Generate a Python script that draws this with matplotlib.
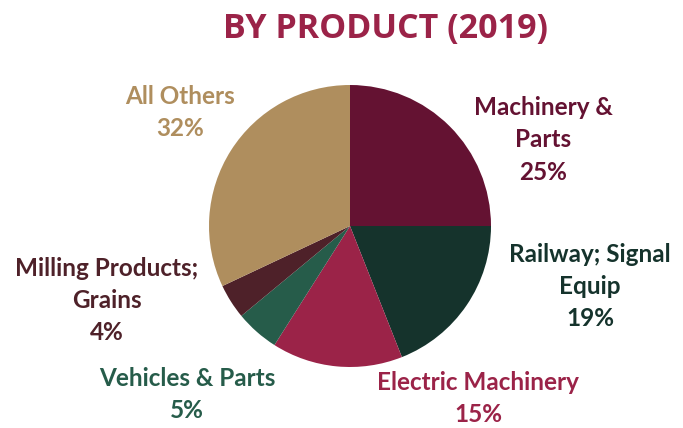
import matplotlib.pyplot as plt

categories = ['Machinery &\nParts', 'Railway; Signal\nEquip', 'Electric Machinery',
              'Vehicles & Parts', 'Milling Products;\nGrains', 'All Others']
shares = [25, 19, 15, 5, 4, 32]
colors = ['#641232', '#15332c', '#9b2348', '#265c4a', '#4e2129', '#af8e5e']
# label centres in pixels (x, y of first line from top)
label_pos = [(543, 108), (590, 254), (478, 383), (187, 378), (107, 268), (180, 96)]

W, H = 683, 428
fig = plt.figure(figsize=(W / 100, H / 100), dpi=100)

cx, cy, r = 350, 226, 141
ax = fig.add_axes([(cx - r) / W, (H - cy - r) / H, 2 * r / W, 2 * r / H])
ax.pie(shares, colors=colors, startangle=90, counterclock=False,
       wedgeprops=dict(linewidth=0))
ax.set_xlim(-1, 1)
ax.set_ylim(-1, 1)
ax.set_aspect('auto')
ax.axis('off')

fig.text(385 / W, 1 - 29 / H, 'BY PRODUCT (2019)', ha='center', va='center',
         fontsize=24.5, fontweight='bold', color='#9b2348', family='Open Sans')

line_h = 32
for cat, val, col, (x, y) in zip(categories, shares, colors, label_pos):
    lines = cat.split('\n') + [f'{val}%']
    for i, ln in enumerate(lines):
        fig.text(x / W, 1 - (y + i * line_h) / H, ln, ha='center', va='center',
                 fontsize=17.5, fontweight='bold', color=col, family='Lato')

fig.savefig('out.png', dpi=100)
